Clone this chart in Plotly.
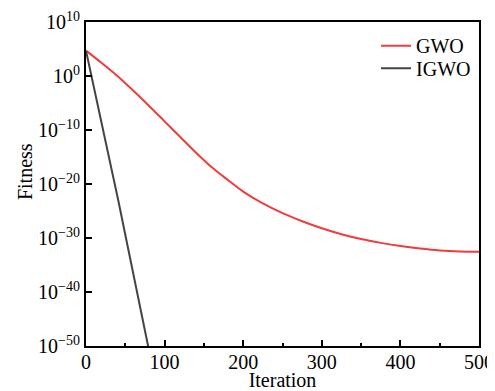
import plotly.graph_objects as go

# GWO convergence curve (iteration, fitness)
gwo_iter = [0, 20, 40, 60, 80, 100, 120, 140, 160, 180, 200, 225, 250, 275, 300,
            325, 350, 375, 400, 425, 450, 475, 500]
gwo_fit = [5e4, 2.5e2, 1e0, 2e-3, 3.2e-6, 4e-9, 5e-12, 6.3e-15, 1.26e-17, 6.3e-20,
           4e-22, 2.5e-24, 4e-26, 1.26e-27, 6.3e-29, 5e-30, 6.3e-31, 1.26e-31,
           3.2e-32, 1.12e-32, 5e-33, 3.2e-33, 2.8e-33]

# IGWO convergence curve
igwo_iter = [0, 41, 79, 90]
igwo_fit = [5e4, 1e-23, 1e-50, 1e-58]

y_tickvals = [1e10, 1e0, 1e-10, 1e-20, 1e-30, 1e-40, 1e-50]
y_ticktext = ["10<sup>10</sup>", "10<sup>0</sup>", "10<sup>\u221210</sup>",
              "10<sup>\u221220</sup>", "10<sup>\u221230</sup>",
              "10<sup>\u221240</sup>", "10<sup>\u221250</sup>"]
x_tickvals = [0, 100, 200, 300, 400, 500]

font = "Liberation Serif, Times New Roman, serif"

fig = go.Figure()
fig.add_trace(go.Scatter(x=gwo_iter, y=gwo_fit, mode="lines", name="GWO",
                         legend="legend",
                         line=dict(color="#f23c3c", width=2, shape="spline",
                                   smoothing=0.8)))
fig.add_trace(go.Scatter(x=igwo_iter, y=igwo_fit, mode="lines", name="IGWO",
                         legend="legend2",
                         line=dict(color="#444444", width=2)))

leg_common = dict(x=0.738, xanchor="left", yanchor="middle",
                  bgcolor="rgba(0,0,0,0)", font=dict(size=20))

fig.update_layout(
    width=487, height=383,
    margin=dict(l=78, r=16, t=14, b=45),
    paper_bgcolor="white", plot_bgcolor="white",
    font=dict(family=font, size=20, color="black"),
    showlegend=True,
    legend=dict(y=0.927, **leg_common),
    legend2=dict(y=0.857, **leg_common),
    xaxis=dict(range=[0, 500], tickvals=x_tickvals, ticks="inside", ticklen=6,
               tickwidth=2, tickcolor="black", automargin=False,
               ticklabelstandoff=-3,
               minor=dict(dtick=50, ticks="inside", ticklen=3, tickwidth=2,
                          tickcolor="black"),
               showline=True, linecolor="black", linewidth=2, mirror=True,
               showgrid=False, zeroline=False,
               title=dict(text="Iteration", standoff=0, font=dict(size=20)),
               tickfont=dict(size=20)),
    yaxis=dict(type="log", range=[-50, 10], tickvals=y_tickvals,
               ticktext=y_ticktext, ticks="inside", ticklen=6, tickwidth=2,
               tickcolor="black", automargin=False,
               showline=True, linecolor="black", linewidth=2, mirror=True,
               showgrid=False, zeroline=False,
               tickfont=dict(size=20)),
    annotations=[dict(text="Fitness", textangle=-90, xref="paper", yref="paper",
                      x=-0.155, y=0.537, xanchor="center", yanchor="middle",
                      showarrow=False, font=dict(size=20))],
)

fig.write_html("out.html")
